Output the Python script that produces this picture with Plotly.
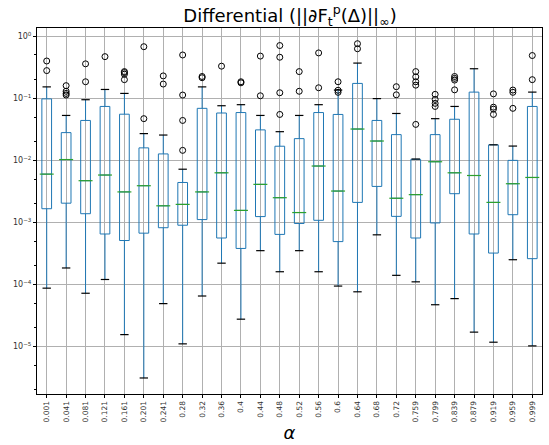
import plotly.graph_objects as go

categories = ["0.001", "0.041", "0.081", "0.121", "0.161", "0.201", "0.241", "0.28", "0.32", "0.36",
              "0.4", "0.44", "0.48", "0.52", "0.56", "0.6", "0.64", "0.68", "0.72", "0.759",
              "0.799", "0.839", "0.879", "0.919", "0.959", "0.999"]

lower_whisker = [8.7e-5, 1.84e-4, 7.2e-5, 1.2e-4, 1.55e-5, 3.1e-6, 4.9e-5, 1.1e-5, 6.5e-5, 2.2e-4,
                 2.75e-5, 3.5e-4, 1.6e-4, 3.5e-4, 1.6e-4, 9.4e-5, 7.6e-5, 6.3e-4, 1.4e-4, 1.1e-4,
                 4.7e-5, 5.9e-5, 1.7e-5, 1.17e-5, 2.5e-4, 1.02e-5]
q1 = [1.66e-3, 2.04e-3, 1.38e-3, 6.5e-4, 5.1e-4, 6.7e-4, 8.2e-4, 9.0e-4, 1.11e-3, 5.6e-4,
      3.8e-4, 1.24e-3, 6.4e-4, 9.6e-4, 1.08e-3, 4.9e-4, 2.1e-3, 3.8e-3, 1.25e-3, 5.6e-4,
      9.8e-4, 2.9e-3, 6.5e-4, 3.2e-4, 1.33e-3, 2.6e-4]
median = [6.0e-3, 1.03e-2, 4.7e-3, 5.8e-3, 3.1e-3, 3.9e-3, 1.85e-3, 1.95e-3, 3.1e-3, 6.3e-3,
          1.56e-3, 4.1e-3, 2.5e-3, 1.44e-3, 8.1e-3, 3.2e-3, 3.2e-2, 2.05e-2, 2.45e-3, 2.8e-3,
          9.5e-3, 6.3e-3, 5.7e-3, 2.1e-3, 4.2e-3, 5.3e-3]
q3 = [0.098, 0.028, 0.044, 0.074, 0.0555, 0.0159, 0.0127, 0.0044, 0.069, 0.058,
      0.059, 0.031, 0.0169, 0.0224, 0.059, 0.055, 0.174, 0.044, 0.026, 0.0104,
      0.026, 0.046, 0.126, 0.0178, 0.010, 0.074]
upper_whisker = [0.153, 0.053, 0.095, 0.139, 0.12, 0.027, 0.0256, 0.0072, 0.153, 0.076,
                 0.079, 0.053, 0.029, 0.053, 0.079, 0.136, 0.37, 0.099, 0.057, 0.0105,
                 0.047, 0.074, 0.30, 0.0178, 0.017, 0.126]
outliers = [
    [0.40, 0.28],
    [0.16, 0.13, 0.12, 0.113],
    [0.36, 0.185],
    [0.47],
    [0.27, 0.26, 0.245, 0.20],
    [0.68, 0.047],
    [0.23, 0.17],
    [0.50, 0.113, 0.044, 0.0145],
    [0.225, 0.215],
    [0.33],
    [0.185, 0.178],
    [0.48, 0.11],
    [0.71, 0.46, 0.123, 0.055],
    [0.27, 0.13],
    [0.54, 0.148],
    [0.185, 0.135, 0.125],
    [0.76, 0.63],
    [],
    [0.154, 0.114],
    [0.27, 0.222, 0.185, 0.163, 0.038],
    [0.116, 0.096, 0.083, 0.074],
    [0.225, 0.21, 0.197, 0.137],
    [],
    [0.118, 0.072, 0.067, 0.055],
    [0.136, 0.125, 0.069],
    [0.49, 0.20],
]

ytick_vals = [1e-5, 1e-4, 1e-3, 1e-2, 1e-1, 1e0]
ytick_text = ["10<sup>−5</sup>", "10<sup>−4</sup>", "10<sup>−3</sup>", "10<sup>−2</sup>",
              "10<sup>−1</sup>", "10<sup>0</sup>"]

blue = "#1f77b4"
fig = go.Figure()
fig.add_trace(go.Box(
    x=categories, q1=q1, median=median, q3=q3,
    lowerfence=lower_whisker, upperfence=upper_whisker,
    line=dict(color=blue, width=1), fillcolor="rgba(255,255,255,0)",
    whiskerwidth=0, width=0.5, boxpoints=False, showlegend=False, hoverinfo="skip"))

# caps
fig.add_trace(go.Scatter(
    x=categories + categories, y=lower_whisker + upper_whisker, mode="markers",
    marker=dict(symbol="line-ew", size=6, line=dict(color="black", width=1.2)),
    showlegend=False, hoverinfo="skip"))
# medians
fig.add_trace(go.Scatter(
    x=categories, y=median, mode="markers",
    marker=dict(symbol="line-ew", size=10, line=dict(color="#2ca02c", width=1.2)),
    showlegend=False, hoverinfo="skip"))
# outliers
ox, oy = [], []
for c, vals in zip(categories, outliers):
    for v in vals:
        ox.append(c)
        oy.append(v)
fig.add_trace(go.Scatter(
    x=ox, y=oy, mode="markers",
    marker=dict(symbol="circle-open", size=6, color="black", line=dict(width=1)),
    showlegend=False, hoverinfo="skip"))

fig.update_layout(
    width=549, height=445,
    margin=dict(l=37, r=6, t=28, b=47),
    paper_bgcolor="white", plot_bgcolor="white",
    font=dict(family="DejaVu Sans", color="black"),
    title=dict(text="Differential (||∂F<sub>t</sub><sup>p</sup>(Δ)||<sub>∞</sub>)",
               x=(37 + 543) / 2 / 549, xanchor="center", y=0.965, yanchor="middle",
               font=dict(size=18, family="DejaVu Sans")),
    xaxis=dict(type="category", range=[-0.5, 25.5], tickangle=-90,
               tickfont=dict(size=7.5, color="#333"), showgrid=True, gridcolor="#b0b0b0",
               gridwidth=1, ticks="outside", ticklen=3, tickcolor="black",
               showline=True, linecolor="black", linewidth=1, mirror=True,
               title=dict(text="<i>α</i>", font=dict(size=18), standoff=4)),
    yaxis=dict(type="log", range=[-5.767, 0.134], tickvals=ytick_vals, ticktext=ytick_text,
               tickfont=dict(size=8, color="#333"), showgrid=True, gridcolor="#b0b0b0",
               gridwidth=1, ticks="outside", ticklen=3, tickcolor="black",
               showline=True, linecolor="black", linewidth=1, mirror=True, zeroline=False,
               minor=dict(ticks="outside", ticklen=2, tickcolor="black", showgrid=False)),
)

fig.write_html("out.html", config={"displayModeBar": False},
               post_script="document.body.style.margin='0';document.body.style.overflow='hidden';")
